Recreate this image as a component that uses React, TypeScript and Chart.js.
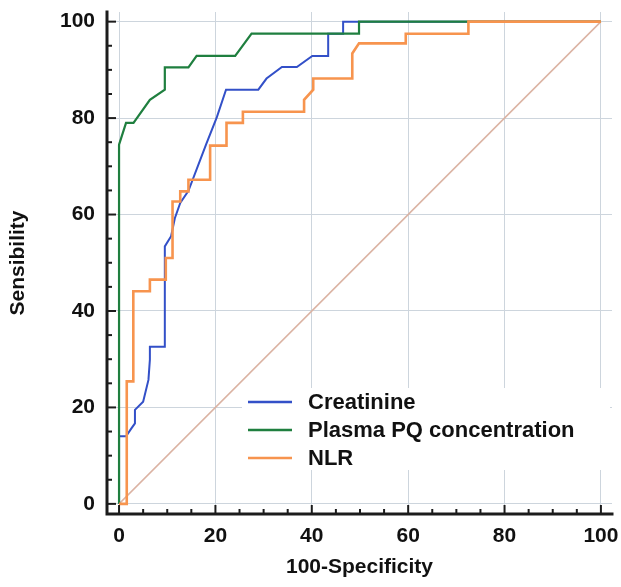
import React, { useEffect, useRef } from 'react';
import { Chart, registerables } from 'chart.js';

Chart.register(...registerables);

const X_TICKS = [0, 20, 40, 60, 80, 100];
const Y_TICKS = [0, 20, 40, 60, 80, 100];
const MINOR_STEP = 5;
const X_TITLE = '100-Specificity';
const Y_TITLE = 'Sensibility';
const SERIES_NAMES = ['Creatinine', 'Plasma PQ concentration', 'NLR'];
const SERIES_COLORS = ['#3350c8', '#1f7f3f', '#f7944e'];

const CREAT_X = [0, 0, 1.45, 2.6, 3.3, 3.3, 5.0, 6.1, 6.4, 6.4, 9.5, 9.5, 10.8, 11.6, 12.7, 14.4, 18.05, 20.3, 22.2, 28.9, 30.6, 33.8, 36.9, 40.1, 43.4, 43.4, 46.5, 46.5, 100];
const CREAT_Y = [0, 14, 14, 15.7, 16.7, 19.5, 21.2, 25.7, 29.9, 32.6, 32.6, 53.4, 55.5, 59.3, 62.4, 64.9, 74.5, 80.2, 85.9, 85.9, 88.2, 90.6, 90.6, 92.9, 92.9, 97.5, 97.5, 100, 100];

const PQ_X = [0, 0, 1.45, 3.0, 6.4, 9.5, 9.5, 14.4, 16.1, 24.1, 27.5, 49.8, 49.8, 100];
const PQ_Y = [0, 74.5, 79, 79, 83.8, 85.9, 90.5, 90.5, 92.9, 92.9, 97.5, 97.5, 100, 100];

const NLR_X = [0, 1.6, 1.6, 2.96, 2.96, 6.4, 6.4, 9.7, 9.7, 11.1, 11.1, 12.7, 12.7, 14.4, 14.4, 18.9, 18.9, 22.3, 22.3, 25.7, 25.7, 38.4, 38.4, 40.3, 40.3, 48.4, 48.4, 49.8, 59.5, 59.5, 72.5, 72.5, 100];
const NLR_Y = [0, 0, 25.4, 25.4, 44.1, 44.1, 46.5, 46.5, 51, 51, 62.7, 62.7, 64.8, 64.8, 67.2, 67.2, 74.3, 74.3, 79, 79, 81.3, 81.3, 83.8, 85.9, 88.2, 88.2, 93.4, 95.5, 95.5, 97.5, 97.5, 100, 100];

const DIAG_X = [0, 100];
const DIAG_Y = [0, 100];

const toPoints = (xs: number[], ys: number[]) => xs.map((x, i) => ({ x, y: ys[i] }));

const FONT_FAMILY = '"Liberation Sans", Arial, Helvetica, sans-serif';

const axesPlugin = {
  id: 'inwardAxes',
  afterDraw(chart: any) {
    const { ctx, chartArea: a, scales } = chart;
    const xs = scales.x;
    const ys = scales.y;
    ctx.save();
    ctx.strokeStyle = '#1c1c1c';
    ctx.lineCap = 'square';
    ctx.lineWidth = 3;
    ctx.beginPath();
    ctx.moveTo(a.left, a.top);
    ctx.lineTo(a.left, a.bottom);
    ctx.lineTo(a.right, a.bottom);
    ctx.stroke();
    ctx.lineCap = 'butt';
    ctx.lineWidth = 2;
    for (let v = 0; v <= 100; v += MINOR_STEP) {
      const len = X_TICKS.includes(v) ? 9 : 5;
      const px = xs.getPixelForValue(v);
      ctx.beginPath();
      ctx.moveTo(px, a.bottom);
      ctx.lineTo(px, a.bottom - len);
      ctx.stroke();
      const leny = Y_TICKS.includes(v) ? 9 : 5;
      const py = ys.getPixelForValue(v);
      ctx.beginPath();
      ctx.moveTo(a.left, py);
      ctx.lineTo(a.left + leny, py);
      ctx.stroke();
    }

    // legend box inside plot
    const boxLeft = 242;
    const boxTop = 388;
    const boxRight = a.right - 2;
    const boxBottom = 470;
    ctx.fillStyle = '#ffffff';
    ctx.fillRect(boxLeft, boxTop, boxRight - boxLeft, boxBottom - boxTop);
    ctx.font = `bold 22px ${FONT_FAMILY}`;
    ctx.textBaseline = 'middle';
    ctx.textAlign = 'left';
    const rows = [402, 430, 458];
    SERIES_NAMES.forEach((name, i) => {
      ctx.strokeStyle = SERIES_COLORS[i];
      ctx.lineWidth = 2.5;
      ctx.beginPath();
      ctx.moveTo(248, rows[i]);
      ctx.lineTo(292, rows[i]);
      ctx.stroke();
      ctx.fillStyle = '#111111';
      ctx.fillText(name, 308, rows[i] + 1);
    });
    ctx.restore();
  },
};

export default function App() {
  const canvasRef = useRef<HTMLCanvasElement | null>(null);

  useEffect(() => {
    if (!canvasRef.current) return;
    const tickFont = { family: FONT_FAMILY, size: 21, weight: 'bold' as const };
    const chart = new Chart(canvasRef.current, {
      type: 'scatter',
      data: {
        datasets: [
          {
            label: 'Reference',
            data: toPoints(DIAG_X, DIAG_Y),
            showLine: true,
            borderColor: '#dbb3a3',
            borderWidth: 1.5,
            pointRadius: 0,
            order: 4,
          },
          {
            label: SERIES_NAMES[0],
            data: toPoints(CREAT_X, CREAT_Y),
            showLine: true,
            borderColor: SERIES_COLORS[0],
            borderWidth: 2,
            pointRadius: 0,
            order: 3,
          },
          {
            label: SERIES_NAMES[1],
            data: toPoints(PQ_X, PQ_Y),
            showLine: true,
            borderColor: SERIES_COLORS[1],
            borderWidth: 2.2,
            pointRadius: 0,
            order: 2,
          },
          {
            label: SERIES_NAMES[2],
            data: toPoints(NLR_X, NLR_Y),
            showLine: true,
            borderColor: SERIES_COLORS[2],
            borderWidth: 2.6,
            pointRadius: 0,
            order: 1,
          },
        ],
      },
      options: {
        animation: false,
        responsive: true,
        maintainAspectRatio: false,
        layout: { padding: { top: 12, right: 9, left: 0, bottom: 0 } },
        plugins: {
          legend: { display: false },
          tooltip: { enabled: false },
        },
        scales: {
          x: {
            type: 'linear',
            min: -2.5,
            max: 102.3,
            afterBuildTicks: (s: any) => {
              s.ticks = X_TICKS.map((v) => ({ value: v }));
            },
            afterFit: (s: any) => {
              s.height = 73;
              s.paddingLeft = 0;
              s.paddingRight = 0;
            },
            ticks: {
              padding: 10,
              color: '#111111',
              font: tickFont,
              maxRotation: 0,
              autoSkip: false,
            },
            grid: { color: '#cdd5dd', lineWidth: 1, drawTicks: false },
            border: { display: false },
            title: {
              display: true,
              text: X_TITLE,
              color: '#111111',
              font: tickFont,
              padding: { top: 0, bottom: 7 },
            },
          },
          y: {
            type: 'linear',
            min: -2.1,
            max: 102,
            afterBuildTicks: (s: any) => {
              s.ticks = Y_TICKS.map((v) => ({ value: v }));
            },
            afterFit: (s: any) => {
              s.width = 107;
              s.paddingTop = 0;
              s.paddingBottom = 0;
            },
            ticks: {
              padding: 12,
              color: '#111111',
              font: tickFont,
              autoSkip: false,
            },
            grid: { color: '#cdd5dd', lineWidth: 1, drawTicks: false },
            border: { display: false },
            title: {
              display: true,
              text: Y_TITLE,
              color: '#111111',
              font: { family: FONT_FAMILY, size: 21, weight: 'bold' as const },
              padding: { top: 6, bottom: 0 },
            },
          },
        },
      },
      plugins: [axesPlugin],
    });
    return () => chart.destroy();
  }, []);

  return (
    <div style={{ position: 'absolute', left: 0, top: 0, width: 621, height: 587 }}>
      <canvas ref={canvasRef} />
    </div>
  );
}
